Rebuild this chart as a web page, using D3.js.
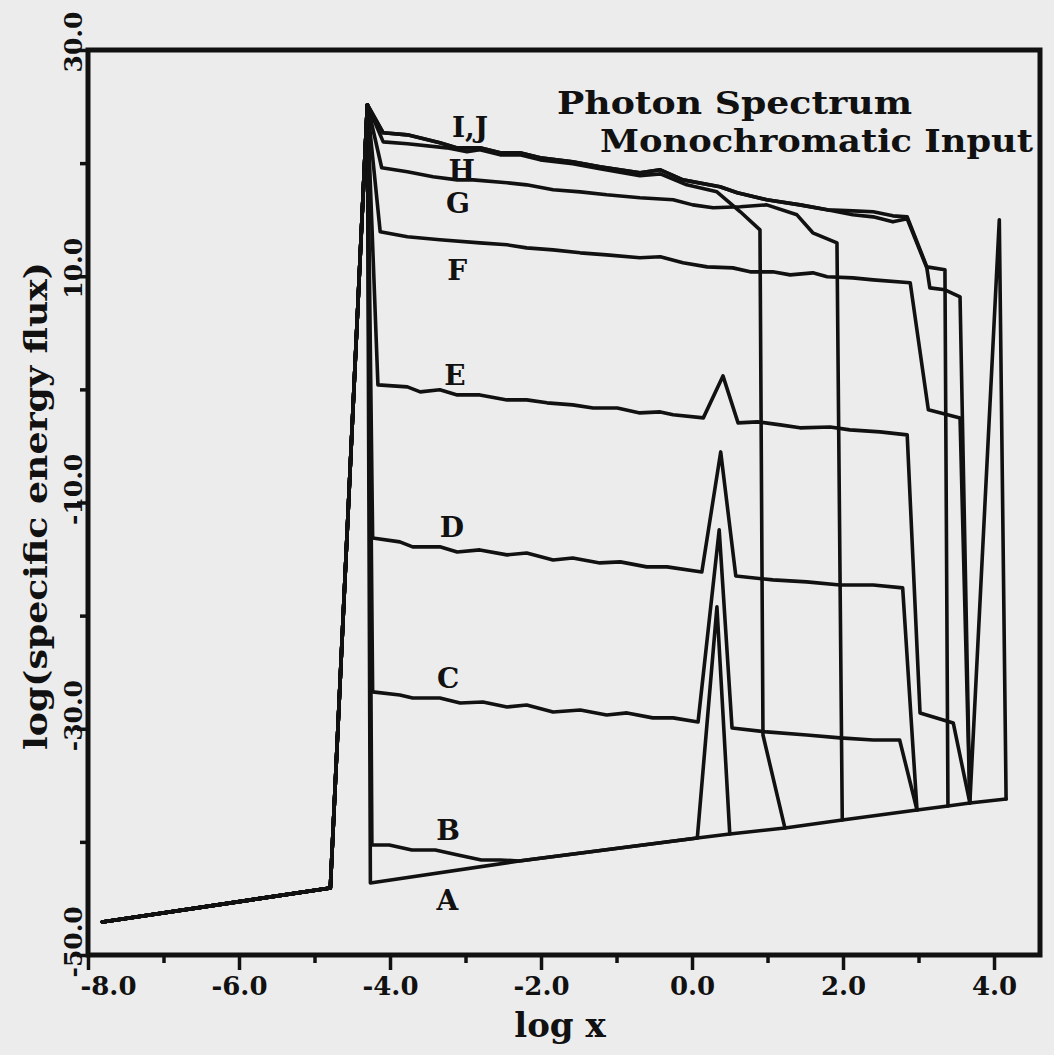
<!DOCTYPE html>
<html><head><meta charset="utf-8">
<script src="https://cdn.jsdelivr.net/npm/d3@7"></script>
<style>
html,body{margin:0;padding:0;background:#ececec;}
svg{display:block;}
text{font-family:"DejaVu Serif",serif;font-weight:bold;fill:#111;}
</style></head><body>
<svg id="chart" width="1054" height="1055"></svg>
<script>
// ---- tick values ----
const xMajorTicks = [-8, -6, -4, -2, 0, 2, 4];
const xMinorTicks = [-7, -5, -3, -1, 1, 3];
const yMajorTicks = [-50, -30, -10, 10, 30];
const yMinorTicks = [-40, -20, 0, 20];

// ---- shared input edge (floor + monochromatic input peak) ----
const inputEdge = [[-7.81,-47.08],[-4.79,-44.08],[-4.30,25.16]];

// ---- series (log x, log flux) after the input peak ----
const curveA = [[-4.26,-43.63],[-2.29,-41.69],[0.07,-39.66],[0.50,-39.30],[1.23,-38.77],[1.99,-38.06],[2.98,-37.18],[3.39,-36.83],[3.68,-36.56],[4.16,-36.21]];
const curveB = [[-4.24,-40.27],[-4.01,-40.27],[-3.71,-40.72],[-3.40,-40.72],[-3.10,-41.16],[-2.79,-41.60],[-2.54,-41.60],[-2.29,-41.69],[0.07,-39.66],[0.33,-19.23],[0.50,-39.30]];
const curveC = [[-4.23,-26.74],[-3.87,-27.01],[-3.70,-27.28],[-3.34,-27.28],[-3.07,-27.72],[-2.77,-27.63],[-2.45,-28.07],[-2.19,-27.90],[-1.84,-28.52],[-1.48,-28.34],[-1.13,-28.78],[-0.86,-28.60],[-0.52,-29.04],[-0.25,-29.04],[0.08,-29.40],[0.36,-12.42],[0.53,-29.93],[0.99,-30.28],[1.52,-30.55],[1.96,-30.81],[2.40,-30.99],[2.75,-30.99],[2.98,-37.18]];
const curveD = [[-4.23,-13.13],[-3.87,-13.48],[-3.70,-13.92],[-3.34,-13.92],[-3.11,-14.37],[-2.81,-14.19],[-2.45,-14.63],[-2.19,-14.46],[-1.84,-15.08],[-1.58,-14.90],[-1.22,-15.34],[-0.95,-15.25],[-0.60,-15.69],[-0.33,-15.69],[0.13,-16.14],[0.38,-5.53],[0.58,-16.49],[1.07,-16.84],[1.52,-17.02],[1.96,-17.29],[2.40,-17.29],[2.79,-17.55],[2.98,-37.18]];
const curveE = [[-4.16,0.40],[-3.77,0.22],[-3.60,-0.22],[-3.34,-0.04],[-3.11,-0.49],[-2.81,-0.49],[-2.45,-0.93],[-2.19,-0.93],[-1.92,-1.19],[-1.58,-1.37],[-1.31,-1.64],[-0.99,-1.64],[-0.69,-2.08],[-0.42,-1.99],[-0.25,-2.25],[0.15,-2.52],[0.41,1.19],[0.61,-2.96],[0.87,-2.87],[1.17,-3.14],[1.43,-3.40],[1.83,-3.32],[2.09,-3.58],[2.49,-3.76],[2.85,-4.02],[3.02,-28.60],[3.46,-29.49],[3.68,-36.56]];
const curveF = [[-4.13,13.93],[-3.77,13.49],[-3.34,13.22],[-2.81,12.95],[-2.45,12.78],[-2.19,12.51],[-1.84,12.33],[-1.48,12.07],[-1.13,11.89],[-0.69,11.63],[-0.42,11.72],[-0.12,11.19],[0.20,10.83],[0.54,10.74],[0.77,10.39],[1.07,10.39],[1.30,10.12],[1.60,10.30],[1.79,9.95],[2.13,9.86],[2.40,9.68],[2.89,9.42],[3.13,-1.81],[3.55,-2.52],[3.68,-36.56]];
const curveG = [[-4.11,19.59],[-3.77,19.23],[-3.43,18.79],[-3.11,18.52],[-2.90,18.52],[-2.45,18.26],[-2.19,18.08],[-1.84,17.64],[-1.48,17.46],[-1.13,17.20],[-0.69,16.94],[-0.25,16.76],[0.01,16.31],[0.28,16.05],[0.64,16.14],[0.99,16.31],[1.39,15.43],[1.60,13.84],[1.92,12.95],[1.99,-38.06]];
const curveH = [[-4.09,21.88],[-3.77,21.71],[-3.25,21.35],[-2.98,21.00],[-2.81,21.18],[-2.54,20.73],[-2.28,20.73],[-2.01,20.29],[-1.58,19.94],[-1.22,19.50],[-0.69,18.88],[-0.42,19.05],[-0.07,18.08],[0.33,17.46],[0.64,15.70],[0.90,14.10],[0.94,-30.55],[1.23,-38.77]];
const curveI = [[-4.09,22.68],[-3.77,22.50],[-3.34,21.80],[-3.11,21.35],[-2.81,21.35],[-2.54,20.91],[-2.28,20.91],[-2.01,20.47],[-1.58,20.12],[-1.22,19.67],[-0.69,19.14],[-0.42,19.41],[-0.12,18.52],[0.37,17.91],[0.60,17.38],[0.99,16.76],[1.43,16.31],[1.79,15.87],[2.13,15.78],[2.40,15.70],[2.66,15.34],[2.85,15.25],[3.11,10.83],[3.35,10.57],[3.39,-36.83]];
const curveJ = [[-4.09,22.68],[-3.77,22.50],[-3.34,21.80],[-3.11,21.35],[-2.81,21.35],[-2.54,20.91],[-2.28,20.91],[-2.01,20.47],[-1.58,20.12],[-1.22,19.67],[-0.69,19.14],[-0.42,19.41],[-0.12,18.52],[0.37,17.91],[0.60,17.38],[0.99,16.76],[1.43,16.31],[1.79,15.87],[2.13,15.43],[2.40,15.25],[2.66,14.81],[2.85,15.08],[3.11,10.74],[3.15,8.97],[3.35,8.80],[3.55,8.18],[3.68,-36.56],[4.07,14.99],[4.16,-36.21]];

// ---- curve labels (text, anchor position in data units) ----
const labelNames = ["I,J", "H", "G", "F", "E", "D", "C", "B", "A"];
const labelX = [-2.94, -3.05, -3.10, -3.11, -3.14, -3.18, -3.23, -3.23, -3.24];
const labelY = [22.33, 18.52, 15.61, 9.68, 0.40, -13.04, -26.39, -39.83, -46.02];

const titleLines = ["Photon Spectrum", "Monochromatic Input"];
const xTitle = "log x";
const yTitle = "log(specific energy flux)";

// ---- layout ----
const svg = d3.select("#chart");
const plot = {left: 88, right: 1040, top: 50, bottom: 955};
const x = d3.scaleLinear().domain([-8, 4.609]).range([plot.left, plot.right]);
const y = d3.scaleLinear().domain([-50, 30]).range([plot.bottom, plot.top]);
const ink = "#111111";

svg.append("rect").attr("width", 1054).attr("height", 1055).attr("fill", "#ececec");

// curves
const series = [curveA, curveB, curveC, curveD, curveE, curveF, curveG, curveH, curveI, curveJ];
const line = d3.line().x(d => x(d[0])).y(d => y(d[1]));
svg.append("g").selectAll("path").data(series).join("path")
  .attr("d", d => line(inputEdge.concat(d)))
  .attr("fill", "none").attr("stroke", ink).attr("stroke-width", 3.6)
  .attr("stroke-linejoin", "round").attr("stroke-linecap", "round");

// frame
svg.append("rect")
  .attr("x", plot.left).attr("y", plot.top)
  .attr("width", plot.right - plot.left).attr("height", plot.bottom - plot.top)
  .attr("fill", "none").attr("stroke", ink).attr("stroke-width", 5);

// x axis
const gxMaj = svg.append("g").attr("transform", `translate(0,${plot.bottom})`)
  .call(d3.axisBottom(x).tickValues(xMajorTicks).tickSize(15).tickSizeOuter(0).tickFormat(d => d.toFixed(1)));
const gxMin = svg.append("g").attr("transform", `translate(0,${plot.bottom})`)
  .call(d3.axisBottom(x).tickValues(xMinorTicks).tickSize(8).tickSizeOuter(0).tickFormat(""));
// y axis
const gyMaj = svg.append("g").attr("transform", `translate(${plot.left},0)`)
  .call(d3.axisLeft(y).tickValues(yMajorTicks).tickSize(11).tickSizeOuter(0).tickFormat(d => d.toFixed(1)));
const gyMin = svg.append("g").attr("transform", `translate(${plot.left},0)`)
  .call(d3.axisLeft(y).tickValues(yMinorTicks).tickSize(8).tickSizeOuter(0).tickFormat(""));

[gxMaj, gxMin, gyMaj, gyMin].forEach(g => {
  g.select(".domain").remove();
  g.selectAll(".tick line").attr("stroke", ink).attr("stroke-width", 3.5);
});
gxMaj.selectAll(".tick text")
  .attr("y", 40).attr("dy", null)
  .attr("dx", d => d === xMajorTicks[0] ? 20 : 0)
  .style("font-size", "26px").style("font-family", "DejaVu Serif, serif").style("font-weight", "bold")
  .attr("fill", ink);
gyMaj.selectAll(".tick text")
  .attr("x", null).attr("dy", null)
  .attr("text-anchor", "start")
  .attr("transform", "translate(-6,22) rotate(-90)")
  .style("font-size", "25px").style("font-family", "DejaVu Serif, serif").style("font-weight", "bold")
  .attr("fill", ink);

// axis titles
svg.append("text").attr("x", 560).attr("y", 1037).attr("text-anchor", "middle")
  .style("font-size", "34px").text(xTitle);
svg.append("text").attr("transform", "translate(47,506) rotate(-90)")
  .attr("text-anchor", "middle").attr("textLength", 488).attr("lengthAdjust", "spacingAndGlyphs")
  .style("font-size", "31px").text(yTitle);

// chart title
svg.append("text").attr("x", 557).attr("y", 114)
  .attr("textLength", 355).attr("lengthAdjust", "spacingAndGlyphs")
  .style("font-size", "32px").text(titleLines[0]);
svg.append("text").attr("x", 600).attr("y", 152)
  .attr("textLength", 433).attr("lengthAdjust", "spacingAndGlyphs")
  .style("font-size", "32px").text(titleLines[1]);

// curve labels
svg.append("g").selectAll("text").data(labelNames).join("text")
  .attr("x", (d, i) => x(labelX[i])).attr("y", (d, i) => y(labelY[i]))
  .attr("text-anchor", "middle").style("font-size", "28px")
  .text(d => d);
</script>
</body></html>
